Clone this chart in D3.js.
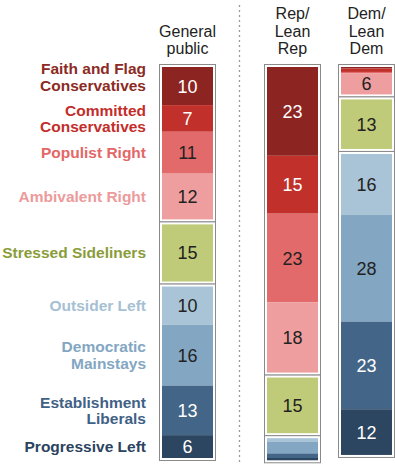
<!DOCTYPE html>
<html>
<head>
<meta charset="utf-8">
<script src="https://cdn.jsdelivr.net/npm/d3@7"></script>
<style>
  body { margin: 0; background: #fff; }
  svg { display: block; font-family: "Liberation Sans", Arial, sans-serif; }
</style>
</head>
<body>
<svg id="chart" width="395" height="465"></svg>
<script>
// typology groups, top to bottom
const typologies = ["Faith and Flag Conservatives", "Committed Conservatives", "Populist Right",
    "Ambivalent Right", "Stressed Sideliners", "Outsider Left", "Democratic Mainstays",
    "Establishment Liberals", "Progressive Left"];
const typologyLines = [["Faith and Flag", "Conservatives"], ["Committed", "Conservatives"], ["Populist Right"],
    ["Ambivalent Right"], ["Stressed Sideliners"], ["Outsider Left"], ["Democratic", "Mainstays"],
    ["Establishment", "Liberals"], ["Progressive Left"]];
// 0 = right-leaning, 1 = sideliners, 2 = left-leaning
const blocks = [0, 0, 0, 0, 1, 2, 2, 2, 2];
const colors = ["#8c2421", "#c1302a", "#e36a6a", "#ee9e9e", "#bfcb78", "#a9c4d6", "#83a6c2", "#436587", "#2c4560"];
const labelColors = ["#8c2a24", "#c32d2a", "#e36767", "#ec9a9a", "#8a9c3a", "#a6c0d4", "#83a6c2", "#3f6185", "#2a4360"];
const numberColors = ["#fff", "#fff", "#222", "#222", "#222", "#222", "#222", "#fff", "#fff"];

const columns = ["General public", "Rep/Lean Rep", "Dem/Lean Dem"];
const columnLines = [["General", "public"], ["Rep/", "Lean", "Rep"], ["Dem/", "Lean", "Dem"]];

// shares, percent
const generalPublic = [10, 7, 11, 12, 15, 10, 16, 13, 6];
const repLeanRep = [23.3, 15.2, 23.3, 18.4, 14.6, 1, 3, 1.2, 0.6];
const demLeanDem = [0.4, 0.9, 0.3, 5.6, 13, 16, 28, 23, 12];
const series = [generalPublic, repLeanRep, demLeanDem];

const svg = d3.select("#chart");
const topY = 67, gap = 5, barW = 51;

const y = d3.scaleLinear().domain([0, 100]).range([0, 381]);
const x = d3.scaleOrdinal().domain(columns).range([162, 267, 341]);

// stack each column, leaving a gap between blocks
const cells = [];
const frames = [];
series.forEach((vals, ci) => {
    let cum = 0;
    vals.forEach((v, i) => {
        const y0 = topY + y(cum) + blocks[i] * gap;
        const y1 = topY + y(cum + v) + blocks[i] * gap;
        cells.push({ col: columns[ci], i, v, y0, y1 });
        cum += v;
    });
    d3.range(3).forEach(b => {
        const inB = cells.filter(c => c.col === columns[ci] && blocks[c.i] === b);
        frames.push({ col: columns[ci], y0: d3.min(inB, c => c.y0), y1: d3.max(inB, c => c.y1) });
    });
});

// dotted divider
svg.append("line")
    .attr("x1", 239.5).attr("x2", 239.5)
    .attr("y1", 5).attr("y2", 463)
    .attr("stroke", "#999")
    .attr("stroke-width", 1.3)
    .attr("stroke-dasharray", "2,3");

svg.selectAll("rect.frame")
    .data(frames)
    .enter()
    .append("rect")
    .attr("class", "frame")
    .attr("x", d => x(d.col) - 2.5)
    .attr("y", d => d.y0 - 2.5)
    .attr("width", barW + 5)
    .attr("height", d => d.y1 - d.y0 + 5)
    .attr("fill", "#fff")
    .attr("stroke", "#8a8a8a")
    .attr("stroke-width", 1);

svg.selectAll("rect.cell")
    .data(cells)
    .enter()
    .append("rect")
    .attr("class", "cell")
    .attr("x", d => x(d.col))
    .attr("y", d => d.y0)
    .attr("width", barW)
    .attr("height", d => d.y1 - d.y0)
    .attr("fill", d => colors[d.i]);

svg.selectAll("text.num")
    .data(cells.filter(d => d.v >= 5))
    .enter()
    .append("text")
    .attr("class", "num")
    .attr("x", d => x(d.col) + barW / 2)
    .attr("y", d => (d.y0 + d.y1) / 2 + 6.5)
    .attr("text-anchor", "middle")
    .attr("font-size", 18)
    .attr("fill", d => numberColors[d.i])
    .text(d => Math.round(d.v));

// column headers
columns.forEach((c, ci) => {
    const lines = columnLines[ci];
    svg.append("text")
        .attr("x", x(c) + barW / 2)
        .attr("text-anchor", "middle")
        .attr("font-size", 16)
        .attr("fill", "#222")
        .selectAll("tspan")
        .data(lines)
        .enter()
        .append("tspan")
        .attr("x", x(c) + barW / 2)
        .attr("y", (d, k) => 54 - (lines.length - 1 - k) * 17.5)
        .text(d => d);
});

// row labels, centred on the general public segments
const gpCells = cells.filter(d => d.col === columns[0]);
gpCells.forEach(d => {
    const lines = typologyLines[d.i];
    let mid = (d.y0 + d.y1) / 2;
    if (d.i === 0) mid -= 9;
    svg.append("text")
        .attr("text-anchor", "end")
        .attr("font-size", 15.5)
        .attr("font-weight", "bold")
        .attr("fill", labelColors[d.i])
        .selectAll("tspan")
        .data(lines)
        .enter()
        .append("tspan")
        .attr("x", 146)
        .attr("y", (t, k) => mid + 5.5 + (k - (lines.length - 1) / 2) * 16.5)
        .text(t => t);
});
</script>
</body>
</html>
